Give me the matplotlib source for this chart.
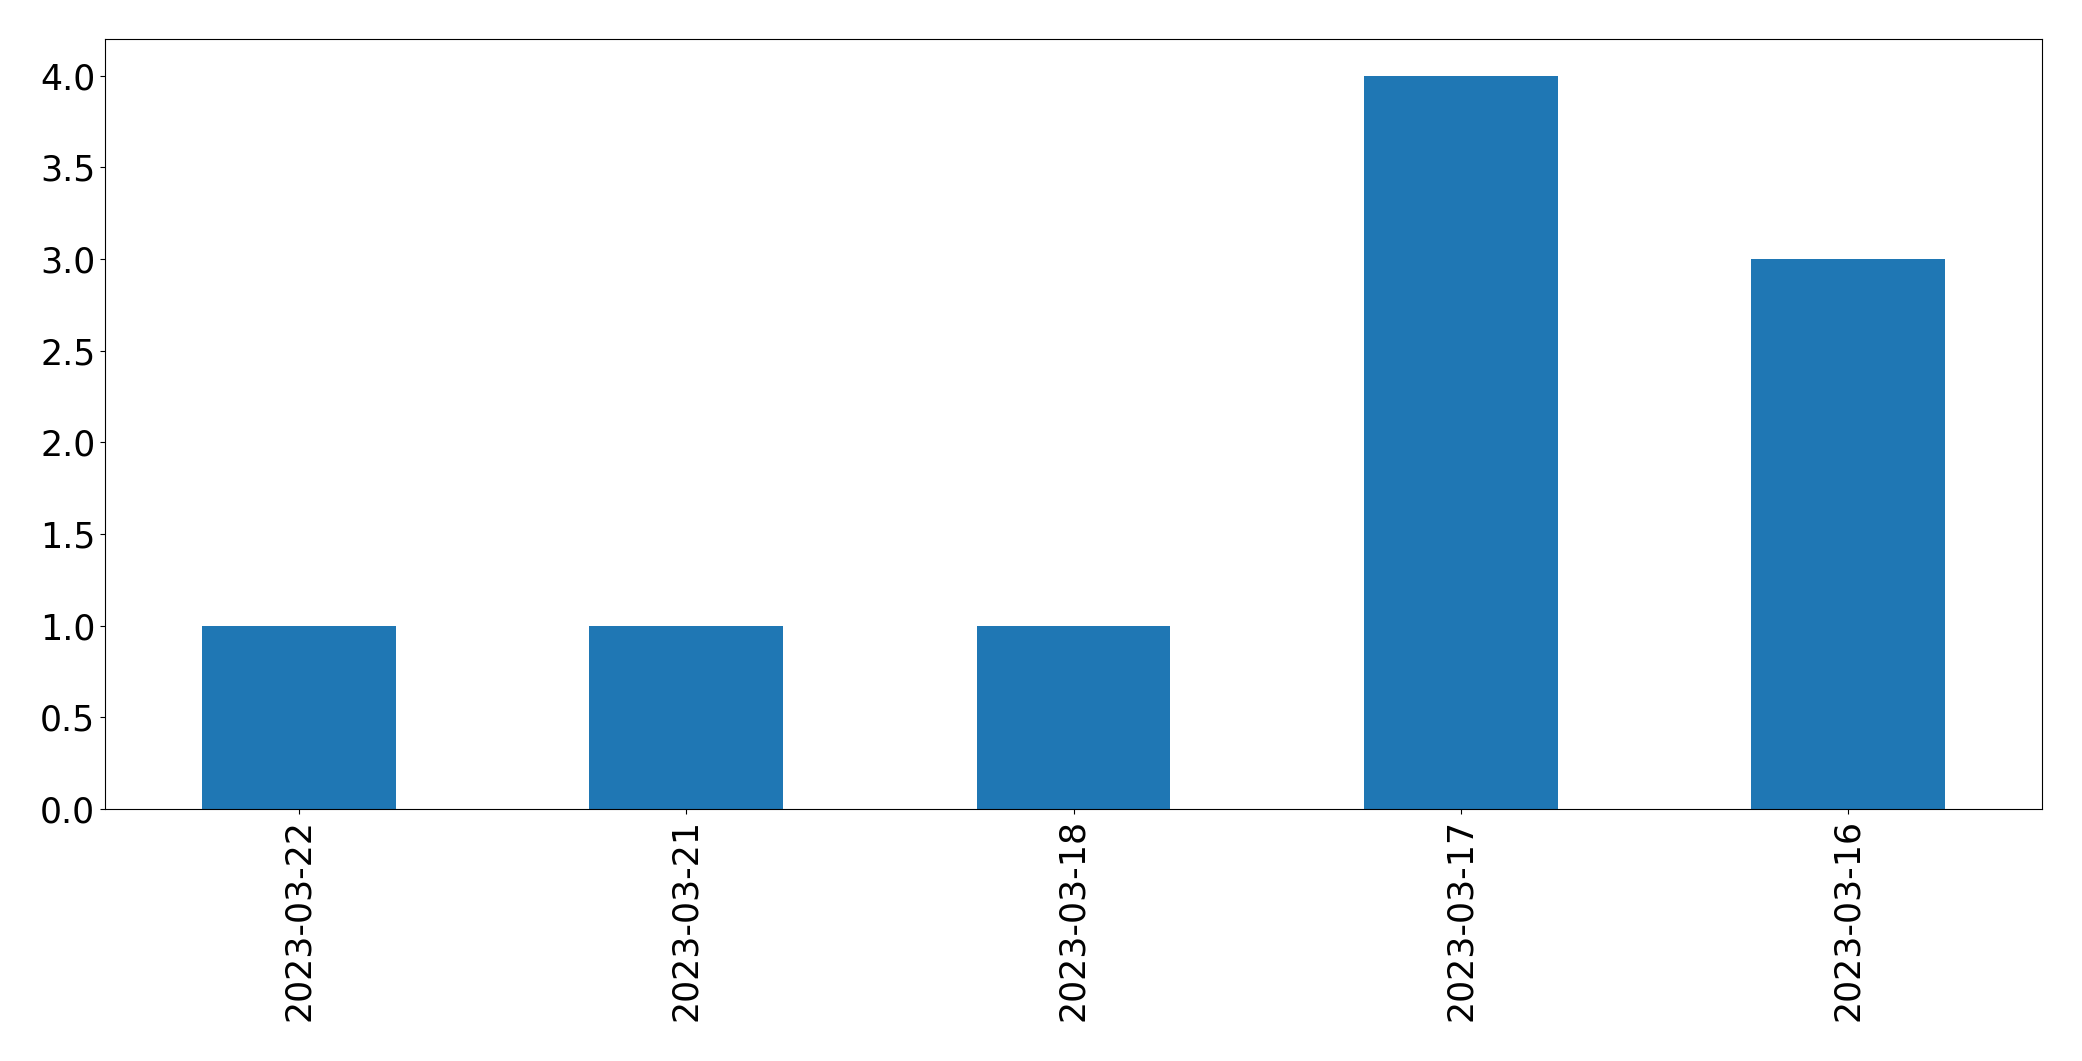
import matplotlib
matplotlib.use('Agg')
import matplotlib.pyplot as plt

dates = ['2023-03-22', '2023-03-21', '2023-03-18', '2023-03-17', '2023-03-16']
counts = [1, 1, 1, 4, 3]

fig = plt.figure(figsize=(20.82, 10.61), dpi=100)
ax = fig.add_axes([105/2082, 1 - 809/1061, (2042-105)/2082, (809-39)/1061])
x = range(len(dates))
ax.bar(x, counts, width=0.5, color='#1f77b4')
ax.set_xlim(-0.5, len(dates) - 0.5)
ax.set_ylim(0, 4.2)
ax.set_xticks(list(x))
ax.set_xticklabels(dates, rotation=90)
ax.tick_params(labelsize=25)
fig.savefig('out.png', dpi=100)
